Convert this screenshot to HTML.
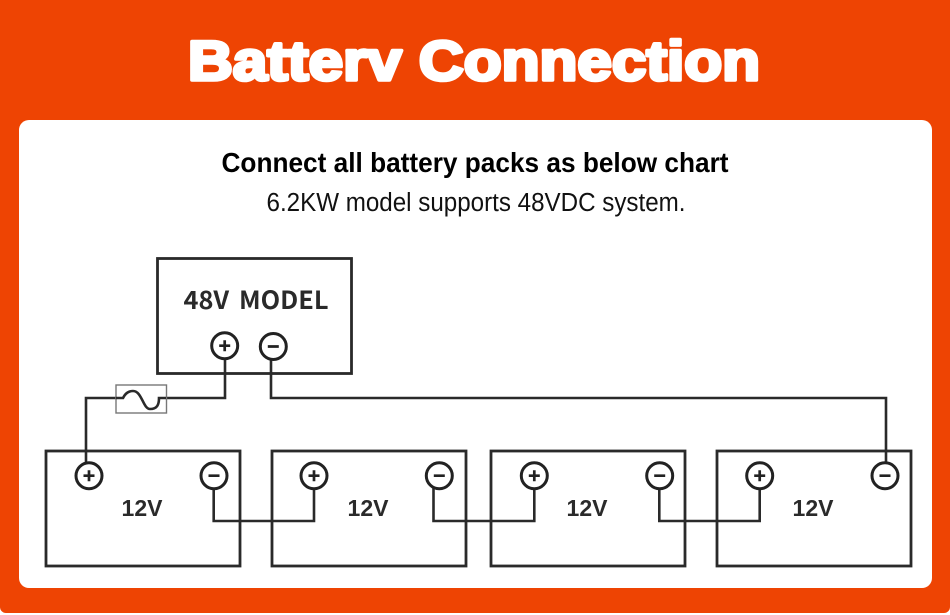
<!DOCTYPE html>
<html><head><meta charset="utf-8">
<style>
html,body{margin:0;padding:0;width:950px;height:615px;background:#fff;overflow:hidden}
svg{display:block}
text{font-family:"Liberation Sans",sans-serif}
.k{fill:none;stroke:#2a2a2a;stroke-width:2.8}
.c{fill:#fff;stroke:#222;stroke-width:3}
.s{stroke:#2a2a2a;stroke-width:2.6;fill:none}
.l{font-weight:700;font-size:23px;fill:#2a2a2a}
</style></head><body>
<svg width="950" height="615" viewBox="0 0 950 615" xmlns="http://www.w3.org/2000/svg">
<rect x="0" y="-10" width="950" height="623" rx="6" fill="#ee4403"/>
<rect x="19" y="120" width="913" height="468" rx="10" fill="#fff"/>
<text x="474" y="80" text-anchor="middle" font-size="56" font-weight="700" fill="#fff" stroke="#fff" stroke-width="3.6" stroke-linejoin="round" textLength="572" lengthAdjust="spacingAndGlyphs">Batterv Connection</text>
<text x="475" y="172" text-anchor="middle" font-size="28" font-weight="700" fill="#000" textLength="507" lengthAdjust="spacingAndGlyphs">Connect all battery packs as below chart</text>
<text x="476" y="211" text-anchor="middle" font-size="25.500" fill="#111" textLength="419" lengthAdjust="spacingAndGlyphs">6.2KW model supports 48VDC system.</text>

<rect class="k" x="157.500" y="258.500" width="194" height="115"/>
<text x="256" y="309" text-anchor="middle" textLength="145" lengthAdjust="spacingAndGlyphs" font-size="25" font-weight="700" fill="#2a2a2a" word-spacing="4" style="font-family:'Noto Sans CJK KR','Liberation Sans',sans-serif">48V MODEL</text>

<rect class="k" x="46" y="451" width="194" height="115"/>
<rect class="k" x="272" y="451" width="194" height="115"/>
<rect class="k" x="491" y="451" width="194" height="115"/>
<rect class="k" x="717" y="451" width="194" height="115"/>
<text class="l" x="142" y="516" text-anchor="middle">12V</text>
<text class="l" x="368" y="516" text-anchor="middle">12V</text>
<text class="l" x="587" y="516" text-anchor="middle">12V</text>
<text class="l" x="813" y="516" text-anchor="middle">12V</text>

<path class="s" d="M225 358V398H166M117 398H86V462"/>
<path class="s" d="M271 358V398H886V462"/>
<path class="s" d="M213.700 488V521H314V488M433.500 488V521H534.300V488M659.300 488V521H759.700V488"/>
<rect x="116" y="385" width="50.500" height="28" fill="#fff" stroke="#777" stroke-width="1.400"/>
<path class="s" d="M116 398H123C125 394 128 391 133 391C142 391 143 409 150 409C157 409 159 405 159 398H166"/>

<g class="c">
<circle cx="224.700" cy="345.700" r="13"/><circle cx="273.300" cy="346.500" r="13"/>
<circle cx="89" cy="475.700" r="13"/><circle cx="214" cy="475.700" r="13"/>
<circle cx="314" cy="475.700" r="13"/><circle cx="439.300" cy="475.700" r="13"/>
<circle cx="534.300" cy="475.700" r="13"/><circle cx="659.700" cy="475.700" r="13"/>
<circle cx="759.700" cy="475.700" r="13"/><circle cx="885" cy="475.700" r="13"/>
</g>
<path stroke="#222" stroke-width="2.700" fill="none" d="M219.200 345.700h11M224.700 340.200v11M267.800 346.500h11M83.500 475.700h11M89 470.200v11M208.500 475.700h11M308.500 475.700h11M314 470.200v11M433.800 475.700h11M528.800 475.700h11M534.300 470.200v11M654.200 475.700h11M754.200 475.700h11M759.700 470.200v11M879.500 475.700h11"/>
</svg>
</body></html>
